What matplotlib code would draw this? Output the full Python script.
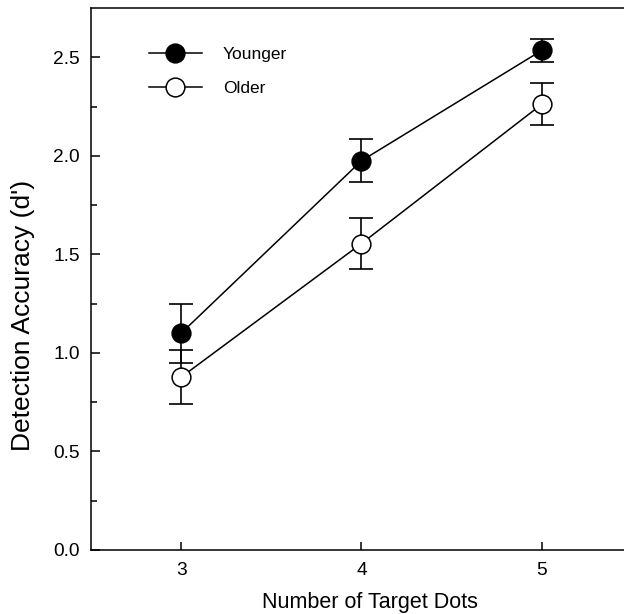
import matplotlib
matplotlib.use("Agg")
import matplotlib.pyplot as plt
import numpy as np

plt.rcParams['font.family'] = ['Liberation Sans', 'DejaVu Sans']

# data
target_dots = [3, 4, 5]
younger = [1.10, 1.975, 2.535]
younger_err = [0.15, 0.11, 0.06]
older = [0.877, 1.555, 2.262]
older_err = [0.137, 0.127, 0.107]

fig = plt.figure(figsize=(6.24, 6.14), dpi=100)
ax = fig.add_axes([91/624, 64/614, 541/624, 542/614])

for y, e, face, lab in [(younger, younger_err, 'black', 'Younger'),
                        (older, older_err, 'white', 'Older')]:
    ax.errorbar(target_dots, y, yerr=e, fmt='none', ecolor='black',
                elinewidth=1.2, capsize=8.3, capthick=1.2, zorder=2)
    ax.plot(target_dots, y, '-o', color='black', lw=1.1, ms=13.5,
            mfc=face, mec='black', mew=1.1, zorder=3, label=lab)

ax.set_xlim(2.5, 5.5)
ax.set_ylim(0, 2.75)
ax.set_xticks(target_dots)
ax.set_yticks(np.arange(0, 2.51, 0.5))
ax.set_yticks(np.arange(0.25, 2.75, 0.5), minor=True)
ax.yaxis.set_major_formatter(matplotlib.ticker.FormatStrFormatter('%.1f'))

ax.tick_params(axis='both', which='both', direction='in', labelsize=13.8,
               width=1.1, top=False, right=False)
ax.tick_params(axis='y', which='major', length=6.5, pad=8)
ax.tick_params(axis='y', which='minor', length=4.3)
ax.tick_params(axis='x', which='major', length=6, pad=8.5)
for s in ax.spines.values():
    s.set_linewidth(1.1)

ax.set_xlabel('Number of Target Dots', fontsize=15.5, va='top')
ax.xaxis.set_label_coords((370 - 91)/541, -42/542)
ax.set_ylabel("Detection Accuracy (d')", fontsize=19)
ax.yaxis.set_label_coords((35 - 91)/541, (550 - 315)/542)

ax.legend(loc='upper left', bbox_to_anchor=(58/541, 1 - 38.5/542), frameon=False,
          fontsize=12.5, handlelength=3.05, handletextpad=1.2,
          labelspacing=1.12, borderpad=0, borderaxespad=0)

fig.savefig('out.png', dpi=100)
